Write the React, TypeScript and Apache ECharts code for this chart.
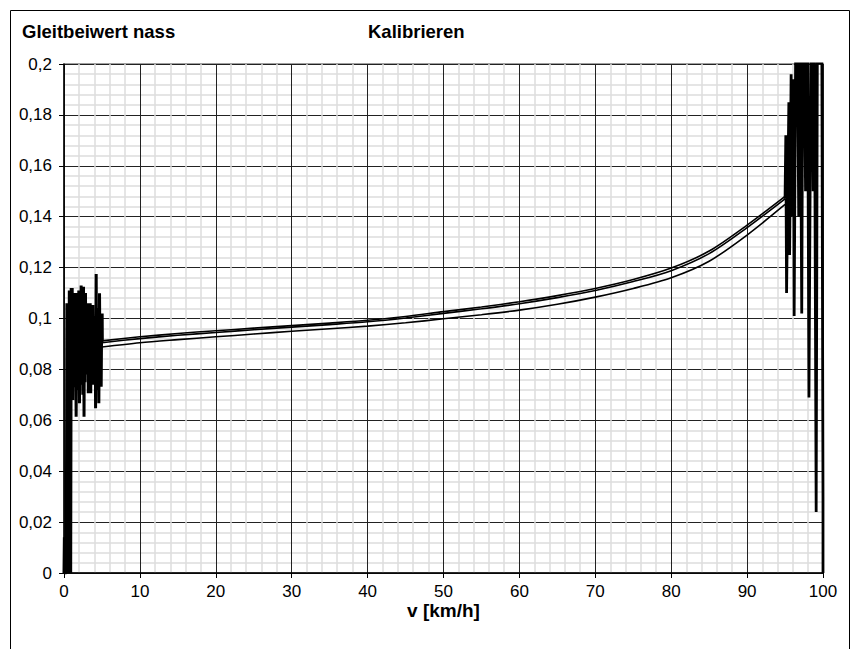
import React, { useEffect, useRef } from "react";
import * as echarts from "echarts";

const chartTitle = "Gleitbeiwert nass";
const chartSubtitle = "Kalibrieren";
const xAxisName = "v [km/h]";

// Smooth curves (x in km/h, friction coefficient)
const curveX = [5, 10, 15, 20, 25, 30, 35, 40, 45, 50, 55, 60, 65, 70, 75, 80, 85, 90, 95];
const curveA = [0.0912, 0.0928, 0.0941, 0.0952, 0.0962, 0.0972, 0.0982, 0.0993, 0.1008, 0.1027, 0.1045, 0.1066, 0.109, 0.1118, 0.1153, 0.1198, 0.1265, 0.1367, 0.148];
const curveB = [0.0905, 0.0921, 0.0934, 0.0945, 0.0956, 0.0966, 0.0976, 0.0987, 0.1002, 0.102, 0.1038, 0.1058, 0.1082, 0.111, 0.1145, 0.1188, 0.1255, 0.1357, 0.147];
const curveC = [0.0888, 0.0905, 0.0917, 0.0928, 0.0939, 0.095, 0.096, 0.097, 0.0983, 0.0999, 0.1015, 0.1033, 0.1056, 0.1084, 0.1118, 0.116, 0.1225, 0.1328, 0.1448];

// Noisy start (0..5 km/h)
const noiseLeft: [number, number][] = [
  [0.0, 0.0], [0.05, 0.014], [0.1, 0.009], [0.15, 0.0], [0.3, 0.0],
  [0.38, 0.106], [0.45, 0.0], [0.55, 0.104], [0.62, 0.0], [0.7, 0.111],
  [0.75, 0.071], [0.82, 0.108], [0.88, 0.0], [0.95, 0.112], [1.02, 0.075],
  [1.08, 0.112], [1.16, 0.068], [1.22, 0.104], [1.3, 0.078], [1.38, 0.11],
  [1.45, 0.073], [1.52, 0.106], [1.6, 0.0614], [1.69, 0.11], [1.76, 0.072],
  [1.82, 0.104], [1.88, 0.076], [1.95, 0.111], [2.04, 0.0667], [2.1, 0.107],
  [2.18, 0.079], [2.26, 0.113], [2.34, 0.074], [2.4, 0.105], [2.48, 0.07],
  [2.57, 0.1125], [2.64, 0.0614], [2.7, 0.104], [2.76, 0.075], [2.83, 0.11],
  [2.9, 0.078], [2.97, 0.102], [3.05, 0.08], [3.14, 0.106], [3.2, 0.0706],
  [3.28, 0.103], [3.36, 0.079], [3.45, 0.106], [3.52, 0.0706], [3.6, 0.104],
  [3.68, 0.08], [3.8, 0.1053], [3.88, 0.074], [3.95, 0.101], [4.05, 0.077],
  [4.12, 0.098], [4.16, 0.0647], [4.24, 0.1175], [4.3, 0.072], [4.38, 0.104],
  [4.45, 0.079], [4.52, 0.102], [4.59, 0.0667], [4.68, 0.1099], [4.75, 0.078],
  [4.82, 0.101], [4.9, 0.0732], [4.96, 0.099], [5.03, 0.102], [5.05, 0.091],
];

// Noisy end (95..100 km/h)
const noiseRight: [number, number][] = [
  [95.0, 0.147], [95.1, 0.172], [95.2, 0.11], [95.5, 0.185], [95.6, 0.125],
  [95.8, 0.196], [95.9, 0.14], [96.1, 0.194], [96.2, 0.101], [96.5, 0.26],
  [96.8, 0.14], [96.9, 0.26], [97.2, 0.102], [97.4, 0.26], [97.7, 0.15],
  [97.9, 0.26], [98.15, 0.069], [98.5, 0.26], [98.7, 0.15], [98.8, 0.26],
  [99.1, 0.024], [99.3, 0.26], [99.6, 0.2], [99.8, 0.26], [100, 0.03], [100, 0.0],
];

const FONT = "'Liberation Sans', Arial, sans-serif";

const fmtY = (v: number) =>
  v === 0 ? "0" : String(Number(v.toFixed(3))).replace(".", ",");

export default function App() {
  const ref = useRef<HTMLDivElement>(null);

  useEffect(() => {
    document.body.style.margin = "0";
    if (!ref.current) return;
    const chart = echarts.init(ref.current, undefined, { renderer: "svg" });
    const curveStyle = { color: "#000", width: 1.6 };
    const noiseStyle = { color: "#000", width: 3 };
    const mk = (xs: number[], ys: number[]) => xs.map((x, i) => [x, ys[i]]);
    const boldText = { fontFamily: FONT, fontSize: 18.5, fontWeight: "bold", color: "#000" };
    chart.setOption({
      animation: false,
      backgroundColor: "#fff",
      textStyle: { fontFamily: FONT },
      title: [
        { text: chartTitle, left: 22, top: 22, padding: 0, textStyle: boldText },
        { text: chartSubtitle, left: 368, top: 22, padding: 0, textStyle: boldText },
      ],
      graphic: [
        {
          type: "rect",
          shape: { x: 10.5, y: 10.5, width: 839, height: 660 },
          style: { fill: "none", stroke: "#000", lineWidth: 1 },
          silent: true,
        },
      ],
      grid: {
        left: 64,
        top: 64,
        right: 28,
        bottom: 76,
        show: true,
        borderColor: "#808080",
        borderWidth: 1.5,
        backgroundColor: "#fff",
      },
      xAxis: {
        type: "value",
        min: 0,
        max: 100,
        interval: 10,
        name: xAxisName,
        nameLocation: "middle",
        nameGap: 28,
        nameMoveOverlap: false,
        nameTextStyle: { ...boldText, fontSize: 19 },
        axisLine: { show: true, onZero: false, lineStyle: { color: "#000", width: 1.5 } },
        axisTick: { show: true, length: 5, lineStyle: { color: "#000" } },
        axisLabel: { fontFamily: FONT, fontSize: 17, color: "#000", margin: 10 },
        splitLine: { show: true, lineStyle: { color: "#222", width: 1 } },
        minorTick: { show: false, splitNumber: 5 },
        minorSplitLine: { show: true, lineStyle: { color: "#dcdcdc", width: 1.5 } },
      },
      yAxis: {
        type: "value",
        min: 0,
        max: 0.2,
        interval: 0.02,
        axisLine: { show: true, onZero: false, lineStyle: { color: "#000", width: 1.5 } },
        axisTick: { show: true, length: 5, lineStyle: { color: "#000" } },
        axisLabel: { fontFamily: FONT, fontSize: 17, color: "#000", margin: 12, formatter: fmtY },
        splitLine: { show: true, lineStyle: { color: "#222", width: 1 } },
        minorTick: { show: false, splitNumber: 5 },
        minorSplitLine: { show: true, lineStyle: { color: "#dcdcdc", width: 1.5 } },
      },
      series: [
        { type: "line", data: noiseLeft, showSymbol: false, symbol: "none", lineStyle: noiseStyle, clip: true },
        { type: "line", data: mk(curveX, curveA), smooth: 0.3, showSymbol: false, symbol: "none", lineStyle: curveStyle, clip: true },
        { type: "line", data: mk(curveX, curveB), smooth: 0.3, showSymbol: false, symbol: "none", lineStyle: curveStyle, clip: true },
        { type: "line", data: mk(curveX, curveC), smooth: 0.3, showSymbol: false, symbol: "none", lineStyle: curveStyle, clip: true },
        { type: "line", data: noiseRight, showSymbol: false, symbol: "none", lineStyle: { color: "#000", width: 2.8 }, clip: true },
      ],
    });
    return () => chart.dispose();
  }, []);

  return <div ref={ref} style={{ width: 851, height: 649 }} />;
}
